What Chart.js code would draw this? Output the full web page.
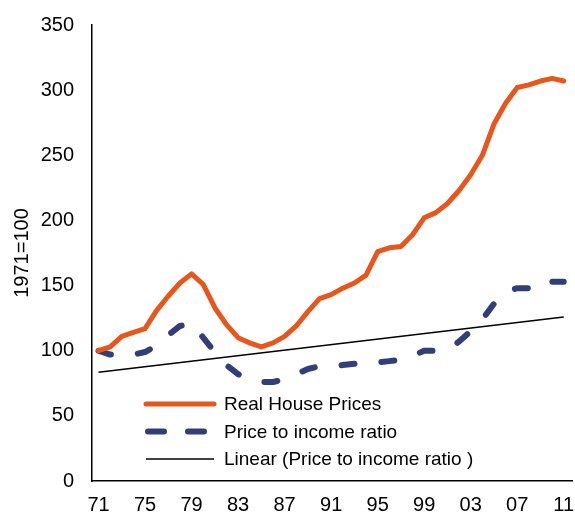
<!DOCTYPE html>
<html><head><meta charset="utf-8">
<script src="https://cdn.jsdelivr.net/npm/chart.js@4.4.1/dist/chart.umd.min.js"></script>
<style>html,body{margin:0;padding:0;background:#fff}#wrap{width:575px;height:513px}</style>
</head><body><div id="wrap"><canvas id="c" width="575" height="513"></canvas></div>
<script>
// ---- data ----
const years = [1971,1972,1973,1974,1975,1976,1977,1978,1979,1980,1981,1982,1983,1984,1985,1986,1987,1988,1989,1990,1991,1992,1993,1994,1995,1996,1997,1998,1999,2000,2001,2002,2003,2004,2005,2006,2007,2008,2009,2010,2011];
const realHousePrices = [100,103,111,114,117,131,142,152,159,151,133,120,110,106,103,106,111,119,130,140,143,148,152,158,176,179,180,189,202,206,213,223,235,250,274,290,302,304,307,309,307];
const priceToIncome = [100,97,97,97,99,104,112,119,121,110,99,89,82,78,76,76,78,82,86,88,88,89,90,91,91,92,93,96,100,100,101,107,115,124,136,145,148,148,147,153,153];
const trendYears = [1971,2011];
const trendValues = [83.5,125.8];
const xTickYears = [1971,1975,1979,1983,1987,1991,1995,1999,2003,2007,2011];
const seriesNames = ['Real House Prices','Price to income ratio','Linear (Price to income ratio )'];
const yAxisTitle = '1971=100';

const FONT = '"Liberation Sans", Arial, sans-serif';
const ORANGE = '#E9561C';
const NAVY = '#323E7A';

const toXY = (xs, ys) => xs.map((x, i) => ({x: x, y: ys[i]}));

const insideLegend = {
  id: 'insideLegend',
  afterDraw(chart) {
    const ctx = chart.ctx;
    const x0 = 146, x1 = 214, tx = 224, y0 = 404, dy = 27.5;
    const order = [1, 2, 0];
    ctx.save();
    order.forEach((dsIndex, row) => {
      const ds = chart.data.datasets[dsIndex];
      const y = y0 + row * dy;
      ctx.beginPath();
      ctx.strokeStyle = ds.borderColor;
      ctx.lineWidth = ds.borderWidth;
      ctx.lineCap = ds.borderCapStyle || 'butt';
      const dashed = ds.borderDash && ds.borderDash.length;
      ctx.setLineDash(dashed ? [16, 24] : []);
      ctx.lineDashOffset = 0;
      if (dashed) {
        ctx.moveTo(x0 + 2, y); ctx.lineTo(x1 - 8, y);
      } else {
        ctx.moveTo(x0, y); ctx.lineTo(x1, y);
      }
      ctx.stroke();
      ctx.setLineDash([]);
      ctx.fillStyle = '#000';
      ctx.font = '19px ' + FONT;
      ctx.textBaseline = 'middle';
      ctx.textAlign = 'left';
      ctx.fillText(ds.label, tx, y + 1);
    });
    ctx.restore();
  }
};

new Chart(document.getElementById('c'), {
  type: 'line',
  data: {
    datasets: [
      {
        label: seriesNames[2],
        data: toXY(trendYears, trendValues),
        borderColor: '#000', borderWidth: 1.5,
        pointRadius: 0, tension: 0, fill: false, order: 0
      },
      {
        label: seriesNames[0],
        data: toXY(years, realHousePrices),
        borderColor: ORANGE, borderWidth: 5, borderCapStyle: 'round', borderJoinStyle: 'round',
        pointRadius: 0, tension: 0, fill: false, order: 1
      },
      {
        label: seriesNames[1],
        data: toXY(years, priceToIncome),
        borderColor: NAVY, borderWidth: 6, borderDash: [13, 27], borderCapStyle: 'round', borderJoinStyle: 'round',
        pointRadius: 0, tension: 0, fill: false, order: 2
      }
    ]
  },
  options: {
    responsive: false,
    animation: false,
    devicePixelRatio: 1,
    layout: { padding: { top: 25, right: 3, left: 0, bottom: 0 } },
    plugins: { legend: { display: false }, tooltip: { enabled: false } },
    scales: {
      x: {
        type: 'linear',
        min: 1970.44, max: 2011.71,
        grid: { display: false, drawTicks: false },
        border: { display: true, color: '#000', width: 1.5 },
        afterBuildTicks: (axis) => { axis.ticks = xTickYears.map(v => ({ value: v })); },
        afterFit: (axis) => { axis.height = 32; axis.paddingLeft = 0; axis.paddingRight = 0; },
        ticks: {
          autoSkip: false, maxRotation: 0, padding: 12,
          color: '#000', font: { family: FONT, size: 20 },
          callback: (v) => String(v).slice(2)
        }
      },
      y: {
        min: 0, max: 350,
        grid: { display: false, drawTicks: false },
        border: { display: true, color: '#000', width: 1.5 },
        afterFit: (axis) => { axis.width = 92; axis.paddingTop = 0; axis.paddingBottom = 0; },
        ticks: { stepSize: 50, padding: 18, color: '#000', font: { family: FONT, size: 20 } },
        title: { display: true, text: yAxisTitle, color: '#000', font: { family: FONT, size: 20 }, padding: { top: 10, bottom: 0 } }
      }
    }
  },
  plugins: [insideLegend]
});
</script>
</body></html>
